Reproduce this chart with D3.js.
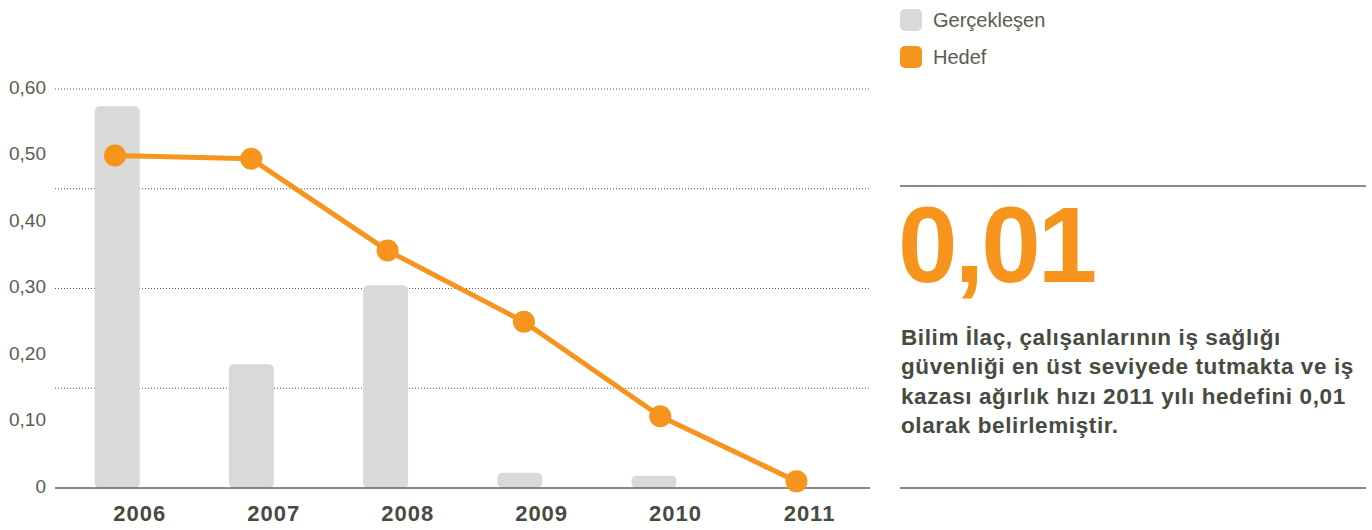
<!DOCTYPE html>
<html lang="tr">
<head>
<meta charset="utf-8">
<script src="https://cdn.jsdelivr.net/npm/d3@7"></script>
<style>
  html, body { margin: 0; padding: 0; background: #fff; }
  svg { display: block; font-family: "Liberation Sans", Arial, Helvetica, sans-serif; }
</style>
</head>
<body>
<svg id="chart" width="1372" height="530"></svg>
<script>
// Kaza ağırlık hızı: gerçekleşen değerler (sütun) ve hedefler (çizgi)
const years = ["2006", "2007", "2008", "2009", "2010", "2011"];
const actual = [0.574, 0.186, 0.305, 0.023, 0.0185, null];
const target = [0.50, 0.495, 0.357, 0.25, 0.108, 0.01];
const yTicks = [0, 0.1, 0.2, 0.3, 0.4, 0.5, 0.6];
const yTickLabels = ["0", "0,10", "0,20", "0,30", "0,40", "0,50", "0,60"];
const gridValues = [0.15, 0.30, 0.45, 0.60];
const legendLabels = ["Gerçekleşen", "Hedef"];
const headline = "0,01";
const noteLines = [
  "Bilim İlaç, çalışanlarının iş sağlığı",
  "güvenliği en üst seviyede tutmakta ve iş",
  "kazası ağırlık hızı 2011 yılı hedefini 0,01",
  "olarak belirlemiştir."
];

const C = {
  bar: "#d9d9d7",
  orange: "#f7941e",
  text: "#585d50",
  textBold: "#464b3f",
  rule: "#5f6457",
  grid: "#555555"
};

const svg = d3.select("#chart");

const y = d3.scaleLinear().domain([0, 0.6]).range([488, 89]);
const xBar = d3.scalePoint().domain(years).range([117.2, 788.2]);
const xDot = d3.scalePoint().domain(years).range([115, 796.5]);
const xLab = d3.scalePoint().domain(years).range([139.3, 809]);
const barW = 45;
const plotLeft = 55, plotRight = 870;

// dotted grid lines
svg.append("g").selectAll("line").data(gridValues).join("line")
  .attr("x1", plotLeft).attr("x2", plotRight)
  .attr("y1", d => y(d)).attr("y2", d => y(d))
  .attr("stroke", C.grid).attr("stroke-width", 1)
  .attr("stroke-dasharray", "1,2");

// y axis labels
const yAxis = d3.axisLeft(y)
  .tickValues(yTicks)
  .tickFormat((d, i) => yTickLabels[i])
  .tickSize(0).tickPadding(0);
const gy = svg.append("g").attr("transform", "translate(46,-2)").call(yAxis);
gy.select(".domain").remove();
gy.selectAll("text")
  .attr("fill", C.text)
  .style("font-size", "19px")
  .style("font-family", "\"Liberation Sans\", Arial, sans-serif");

// bars
svg.append("g").selectAll("rect")
  .data(years.map((yr, i) => ({ yr, v: actual[i] })).filter(d => d.v != null))
  .join("rect")
  .attr("x", d => xBar(d.yr) - barW / 2)
  .attr("y", d => y(d.v))
  .attr("width", barW)
  .attr("height", d => y(0) - y(d.v))
  .attr("rx", 5).attr("ry", 5)
  .attr("fill", C.bar);

// baseline
svg.append("line")
  .attr("x1", plotLeft).attr("x2", plotRight)
  .attr("y1", y(0)).attr("y2", y(0))
  .attr("stroke", C.rule).attr("stroke-width", 1.5);

// target line and markers
const pts = years.map((yr, i) => ({ yr, v: target[i] }));
svg.append("path")
  .datum(pts)
  .attr("fill", "none")
  .attr("stroke", C.orange)
  .attr("stroke-width", 5)
  .attr("stroke-linejoin", "round")
  .attr("d", d3.line().x(d => xDot(d.yr)).y(d => y(d.v)));
svg.append("g").selectAll("circle").data(pts).join("circle")
  .attr("cx", d => xDot(d.yr)).attr("cy", d => y(d.v))
  .attr("r", 11).attr("fill", C.orange);

// x labels
const xAxis = d3.axisBottom(xLab).tickSize(0).tickPadding(0);
const gx = svg.append("g").attr("transform", "translate(0,521)").call(xAxis);
gx.select(".domain").remove();
gx.selectAll("text")
  .attr("dy", 0)
  .attr("fill", C.textBold)
  .style("font-size", "22px")
  .style("font-weight", "bold")
  .style("letter-spacing", "1px")
  .style("font-family", "\"Liberation Sans\", Arial, sans-serif");

// legend
const legend = svg.append("g");
const legendColors = [C.bar, C.orange];
const legendY = [9, 46];
legend.selectAll("rect").data(legendLabels).join("rect")
  .attr("x", 900).attr("y", (d, i) => legendY[i])
  .attr("width", 22).attr("height", 22)
  .attr("rx", 5).attr("ry", 5)
  .attr("fill", (d, i) => legendColors[i]);
legend.selectAll("text").data(legendLabels).join("text")
  .attr("x", 933).attr("y", (d, i) => legendY[i] + 11)
  .attr("dominant-baseline", "central")
  .attr("fill", C.text)
  .style("font-size", "20px")
  .text(d => d);

// side panel
svg.append("line").attr("x1", 900).attr("x2", 1366).attr("y1", 186).attr("y2", 186)
  .attr("stroke", C.rule).attr("stroke-width", 1.5);
svg.append("line").attr("x1", 900).attr("x2", 1366).attr("y1", 488).attr("y2", 488)
  .attr("stroke", C.rule).attr("stroke-width", 1.5);

svg.append("text")
  .attr("x", 898).attr("y", 282)
  .attr("fill", C.orange)
  .style("font-size", "107px")
  .style("font-weight", "bold")
  .style("letter-spacing", "-3px")
  .text(headline);

svg.append("g").selectAll("text").data(noteLines).join("text")
  .attr("x", 901).attr("y", (d, i) => 345 + i * 29.3)
  .attr("fill", C.textBold)
  .style("font-size", "22.5px")
  .style("font-weight", "bold")
  .style("letter-spacing", "0.6px")
  .text(d => d);
</script>
</body>
</html>
